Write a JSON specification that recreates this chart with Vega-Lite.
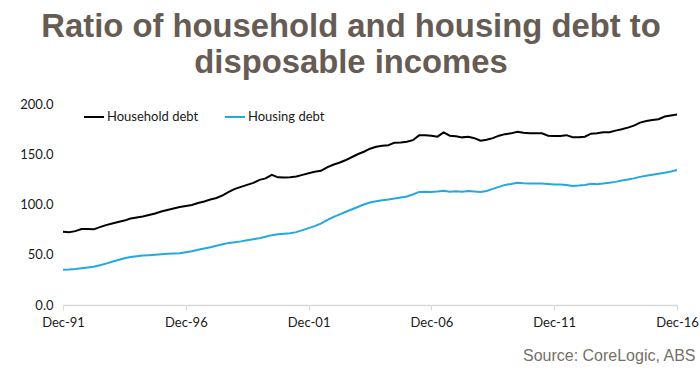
{
  "$schema": "https://vega.github.io/schema/vega-lite/v6.json",
  "width": 614,
  "height": 201,
  "autosize": {"type": "none"},
  "padding": {"left": 63, "top": 104, "right": 23, "bottom": 70},
  "background": "white",
  "title": {
    "text": ["Ratio of household and housing debt to", "disposable incomes"],
    "anchor": "middle",
    "frame": "group",
    "dx": -19,
    "offset": 18,
    "font": "Liberation Sans",
    "fontSize": 32.8,
    "fontWeight": "bold",
    "color": "#675c53",
    "lineHeight": 36
  },
  "data": {
    "values": [
      {"date": "1991-12-01", "Household debt": 73, "Housing debt": 35},
      {"date": "1992-03-01", "Household debt": 72.5, "Housing debt": 35.3},
      {"date": "1992-06-01", "Household debt": 73.5, "Housing debt": 35.8},
      {"date": "1992-09-01", "Household debt": 75.5, "Housing debt": 36.5},
      {"date": "1992-12-01", "Household debt": 75.5, "Housing debt": 37.2},
      {"date": "1993-03-01", "Household debt": 75.3, "Housing debt": 38},
      {"date": "1993-06-01", "Household debt": 77.5, "Housing debt": 39.5},
      {"date": "1993-09-01", "Household debt": 79.5, "Housing debt": 41.2},
      {"date": "1993-12-01", "Household debt": 81, "Housing debt": 43},
      {"date": "1994-03-01", "Household debt": 82.5, "Housing debt": 44.8},
      {"date": "1994-06-01", "Household debt": 84, "Housing debt": 46.5},
      {"date": "1994-09-01", "Household debt": 86, "Housing debt": 47.8},
      {"date": "1994-12-01", "Household debt": 87, "Housing debt": 48.6},
      {"date": "1995-03-01", "Household debt": 88, "Housing debt": 49.2},
      {"date": "1995-06-01", "Household debt": 89.5, "Housing debt": 49.6},
      {"date": "1995-09-01", "Household debt": 91, "Housing debt": 50},
      {"date": "1995-12-01", "Household debt": 93, "Housing debt": 50.5},
      {"date": "1996-03-01", "Household debt": 94.5, "Housing debt": 50.9},
      {"date": "1996-06-01", "Household debt": 96, "Housing debt": 51.2},
      {"date": "1996-09-01", "Household debt": 97.5, "Housing debt": 51.6},
      {"date": "1996-12-01", "Household debt": 98.5, "Housing debt": 52.5},
      {"date": "1997-03-01", "Household debt": 99.5, "Housing debt": 53.5},
      {"date": "1997-06-01", "Household debt": 101.5, "Housing debt": 55},
      {"date": "1997-09-01", "Household debt": 103, "Housing debt": 56.2},
      {"date": "1997-12-01", "Household debt": 105, "Housing debt": 57.5},
      {"date": "1998-03-01", "Household debt": 106.5, "Housing debt": 59},
      {"date": "1998-06-01", "Household debt": 109, "Housing debt": 60.5},
      {"date": "1998-09-01", "Household debt": 112.5, "Housing debt": 61.8},
      {"date": "1998-12-01", "Household debt": 115.5, "Housing debt": 62.5},
      {"date": "1999-03-01", "Household debt": 117.5, "Housing debt": 63.3},
      {"date": "1999-06-01", "Household debt": 119.5, "Housing debt": 64.5},
      {"date": "1999-09-01", "Household debt": 121.5, "Housing debt": 65.5},
      {"date": "1999-12-01", "Household debt": 124.5, "Housing debt": 66.5},
      {"date": "2000-03-01", "Household debt": 126, "Housing debt": 68},
      {"date": "2000-06-01", "Household debt": 129.5, "Housing debt": 69.5},
      {"date": "2000-09-01", "Household debt": 127, "Housing debt": 70.3},
      {"date": "2000-12-01", "Household debt": 126.8, "Housing debt": 71},
      {"date": "2001-03-01", "Household debt": 127, "Housing debt": 71.5},
      {"date": "2001-06-01", "Household debt": 127.8, "Housing debt": 72.5},
      {"date": "2001-09-01", "Household debt": 129.5, "Housing debt": 74.5},
      {"date": "2001-12-01", "Household debt": 131, "Housing debt": 76.5},
      {"date": "2002-03-01", "Household debt": 132.5, "Housing debt": 78.5},
      {"date": "2002-06-01", "Household debt": 133.5, "Housing debt": 81},
      {"date": "2002-09-01", "Household debt": 137, "Housing debt": 84.5},
      {"date": "2002-12-01", "Household debt": 139.5, "Housing debt": 87.5},
      {"date": "2003-03-01", "Household debt": 141.5, "Housing debt": 90},
      {"date": "2003-06-01", "Household debt": 144, "Housing debt": 92.5},
      {"date": "2003-09-01", "Household debt": 147, "Housing debt": 95},
      {"date": "2003-12-01", "Household debt": 150, "Housing debt": 97.5},
      {"date": "2004-03-01", "Household debt": 152.5, "Housing debt": 100},
      {"date": "2004-06-01", "Household debt": 155.5, "Housing debt": 102},
      {"date": "2004-09-01", "Household debt": 157.5, "Housing debt": 103.3},
      {"date": "2004-12-01", "Household debt": 158.5, "Housing debt": 104.2},
      {"date": "2005-03-01", "Household debt": 159, "Housing debt": 105},
      {"date": "2005-06-01", "Household debt": 161.5, "Housing debt": 106},
      {"date": "2005-09-01", "Household debt": 161.8, "Housing debt": 107},
      {"date": "2005-12-01", "Household debt": 162.5, "Housing debt": 108},
      {"date": "2006-03-01", "Household debt": 164, "Housing debt": 110},
      {"date": "2006-06-01", "Household debt": 168.8, "Housing debt": 112.5},
      {"date": "2006-09-01", "Household debt": 168.8, "Housing debt": 112.8},
      {"date": "2006-12-01", "Household debt": 168.3, "Housing debt": 112.5},
      {"date": "2007-03-01", "Household debt": 167.5, "Housing debt": 113},
      {"date": "2007-06-01", "Household debt": 171.8, "Housing debt": 113.7},
      {"date": "2007-09-01", "Household debt": 168.5, "Housing debt": 112.8},
      {"date": "2007-12-01", "Household debt": 168, "Housing debt": 113.3},
      {"date": "2008-03-01", "Household debt": 166.8, "Housing debt": 112.7},
      {"date": "2008-06-01", "Household debt": 167.5, "Housing debt": 113.5},
      {"date": "2008-09-01", "Household debt": 166, "Housing debt": 113},
      {"date": "2008-12-01", "Household debt": 163.5, "Housing debt": 112.5},
      {"date": "2009-03-01", "Household debt": 164.5, "Housing debt": 113.5},
      {"date": "2009-06-01", "Household debt": 166, "Housing debt": 115.5},
      {"date": "2009-09-01", "Household debt": 168.5, "Housing debt": 117.5},
      {"date": "2009-12-01", "Household debt": 170, "Housing debt": 119.5},
      {"date": "2010-03-01", "Household debt": 170.8, "Housing debt": 120.5},
      {"date": "2010-06-01", "Household debt": 172.4, "Housing debt": 121.7},
      {"date": "2010-09-01", "Household debt": 171.3, "Housing debt": 121.2},
      {"date": "2010-12-01", "Household debt": 170.8, "Housing debt": 121},
      {"date": "2011-03-01", "Household debt": 170.8, "Housing debt": 121},
      {"date": "2011-06-01", "Household debt": 170.8, "Housing debt": 120.8},
      {"date": "2011-09-01", "Household debt": 168.5, "Housing debt": 120.5},
      {"date": "2011-12-01", "Household debt": 168.2, "Housing debt": 120},
      {"date": "2012-03-01", "Household debt": 168.2, "Housing debt": 120},
      {"date": "2012-06-01", "Household debt": 169, "Housing debt": 119.5},
      {"date": "2012-09-01", "Household debt": 167, "Housing debt": 118.5},
      {"date": "2012-12-01", "Household debt": 166.8, "Housing debt": 118.8},
      {"date": "2013-03-01", "Household debt": 167.5, "Housing debt": 119.5},
      {"date": "2013-06-01", "Household debt": 170.5, "Housing debt": 120.6},
      {"date": "2013-09-01", "Household debt": 170.8, "Housing debt": 120.2},
      {"date": "2013-12-01", "Household debt": 171.8, "Housing debt": 121},
      {"date": "2014-03-01", "Household debt": 172, "Housing debt": 121.7},
      {"date": "2014-06-01", "Household debt": 173.5, "Housing debt": 122.5},
      {"date": "2014-09-01", "Household debt": 174.8, "Housing debt": 123.8},
      {"date": "2014-12-01", "Household debt": 176.5, "Housing debt": 124.8},
      {"date": "2015-03-01", "Household debt": 178.5, "Housing debt": 126},
      {"date": "2015-06-01", "Household debt": 181.5, "Housing debt": 127.5},
      {"date": "2015-09-01", "Household debt": 183, "Housing debt": 128.5},
      {"date": "2015-12-01", "Household debt": 184, "Housing debt": 129.5},
      {"date": "2016-03-01", "Household debt": 184.8, "Housing debt": 130.5},
      {"date": "2016-06-01", "Household debt": 187.5, "Housing debt": 131.5},
      {"date": "2016-09-01", "Household debt": 188.5, "Housing debt": 132.8},
      {"date": "2016-12-01", "Household debt": 189.6, "Housing debt": 134.3}
    ]
  },
  "transform": [
    {"fold": ["Household debt", "Housing debt"], "as": ["series", "value"]}
  ],
  "mark": {"type": "line", "strokeWidth": 2},
  "encoding": {
    "x": {
      "field": "date",
      "type": "temporal",
      "scale": {"type": "utc", "domain": [{"year": 1991, "month": 12, "date": 1, "utc": true}, {"year": 2016, "month": 12, "date": 1, "utc": true}]},
      "axis": {
        "values": [
          {"year": 1991, "month": 12, "date": 1, "utc": true},
          {"year": 1996, "month": 12, "date": 1, "utc": true},
          {"year": 2001, "month": 12, "date": 1, "utc": true},
          {"year": 2006, "month": 12, "date": 1, "utc": true},
          {"year": 2011, "month": 12, "date": 1, "utc": true},
          {"year": 2016, "month": 12, "date": 1, "utc": true}
        ],
        "format": "%b-%y",
        "grid": false,
        "domainColor": "#d9d9d9",
        "domainWidth": 1.5,
        "tickColor": "#d9d9d9",
        "tickSize": 5,
        "labelFont": "Lato",
        "labelFontSize": 13,
        "labelColor": "#1a1a1a",
        "labelPadding": 6,
        "labelFlush": false,
        "labelOverlap": false,
        "title": "Source: CoreLogic, ABS",
        "titleFont": "Liberation Sans",
        "titleFontSize": 16,
        "titleFontWeight": "normal",
        "titleColor": "#757068",
        "titleAlign": "right",
        "titleAnchor": "end",
        "titleBaseline": "alphabetic",
        "titleX": 632,
        "titleY": 55
      }
    },
    "y": {
      "field": "value",
      "type": "quantitative",
      "scale": {"domain": [0, 200]},
      "axis": {
        "values": [0, 50, 100, 150, 200],
        "format": ".1f",
        "grid": false,
        "domain": false,
        "ticks": false,
        "labelFont": "Lato",
        "labelFontSize": 13,
        "labelColor": "#1a1a1a",
        "labelPadding": 10,
        "title": null
      }
    },
    "color": {
      "field": "series",
      "type": "nominal",
      "scale": {"domain": ["Household debt", "Housing debt"], "range": ["#000000", "#22a9e1"]},
      "legend": {
        "title": null,
        "orient": "none",
        "legendX": 20,
        "legendY": 2,
        "direction": "horizontal",
        "symbolType": "stroke",
        "symbolSize": 400,
        "symbolStrokeWidth": 2,
        "labelFont": "Lato",
        "labelFontSize": 13,
        "labelColor": "#1a1a1a",
        "labelOffset": 2,
        "columnPadding": 22
      }
    }
  },
  "config": {"view": {"stroke": null}}
}
